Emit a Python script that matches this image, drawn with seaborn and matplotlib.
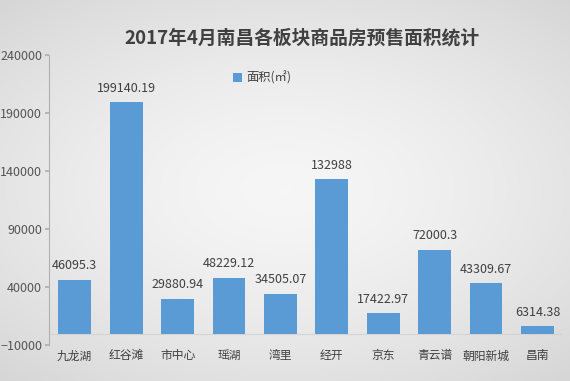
import numpy as np
import pandas as pd
import matplotlib.pyplot as plt
import seaborn as sns

# data
districts = ["九龙湖", "红谷滩", "市中心", "瑶湖", "湾里", "经开", "京东", "青云谱", "朝阳新城", "昌南"]
area = [46095.3, 199140.19, 29880.94, 48229.12, 34505.07, 132988, 17422.97, 72000.3, 43309.67, 6314.38]
area_labels = ["46095.3", "199140.19", "29880.94", "48229.12", "34505.07",
               "132988", "17422.97", "72000.3", "43309.67", "6314.38"]
yticks = [-10000, 40000, 90000, 140000, 190000, 240000]

df = pd.DataFrame({"district": districts, "area": area})

sns.set_theme(style="white")
plt.rcParams["font.family"] = ["Noto Sans CJK SC", "DejaVu Sans"]

fig = plt.figure(figsize=(5.7, 3.81), dpi=100)

# soft grey radial background, light centre, darker edges
bg = fig.add_axes([0, 0, 1, 1], zorder=-10)
yy, xx = np.mgrid[-1:1:200j, -1:1:300j]
r = np.clip(np.sqrt((xx * 0.85) ** 2 + (yy * 0.95) ** 2), 0, 1.3)
shade = 0.965 - 0.13 * (r / 1.3) ** 1.5
bg.imshow(np.dstack([shade] * 3), aspect="auto", extent=[0, 1, 0, 1])
bg.axis("off")

ax = fig.add_axes([0.086, 0.094, 0.902, 0.762])
ax.patch.set_alpha(0)
sns.barplot(data=df, x="district", y="area", color="#5b9bd5", width=0.64,
            saturation=1, linewidth=0, ax=ax, label="面积(㎡)")

for i, v in enumerate(area):
    ax.text(i, v + 6500, area_labels[i], ha="center", va="bottom",
            fontsize=9, color="#404040")

ax.set_ylim(-10000, 240000)
ax.set_yticks(yticks)
ax.set_xlim(-0.5, len(districts) - 0.5)
ax.set_xlabel("")
ax.set_ylabel("")
ax.axhline(0, color="#d4d4d4", lw=0.8, zorder=0)

for s in ["top", "right", "bottom"]:
    ax.spines[s].set_visible(False)
ax.spines["left"].set_color("#b0b0b0")
ax.spines["left"].set_linewidth(0.8)
ax.tick_params(axis="y", length=3, color="#b0b0b0", labelsize=9, labelcolor="#555555", pad=2, left=True)
ax.tick_params(axis="x", length=0, labelsize=8.5, labelcolor="#404040", pad=3)

ax.legend(loc="upper center", bbox_to_anchor=(0.415, 0.98), frameon=False, fontsize=8.8,
          handlelength=0.7, handleheight=0.7, handletextpad=0.4, labelcolor="#404040")

fig.text(0.53, 0.9, "2017年4月南昌各板块商品房预售面积统计", ha="center", va="center",
         fontsize=13.5, fontweight="bold", color="#404040")

fig.savefig("out.png", dpi=100)
